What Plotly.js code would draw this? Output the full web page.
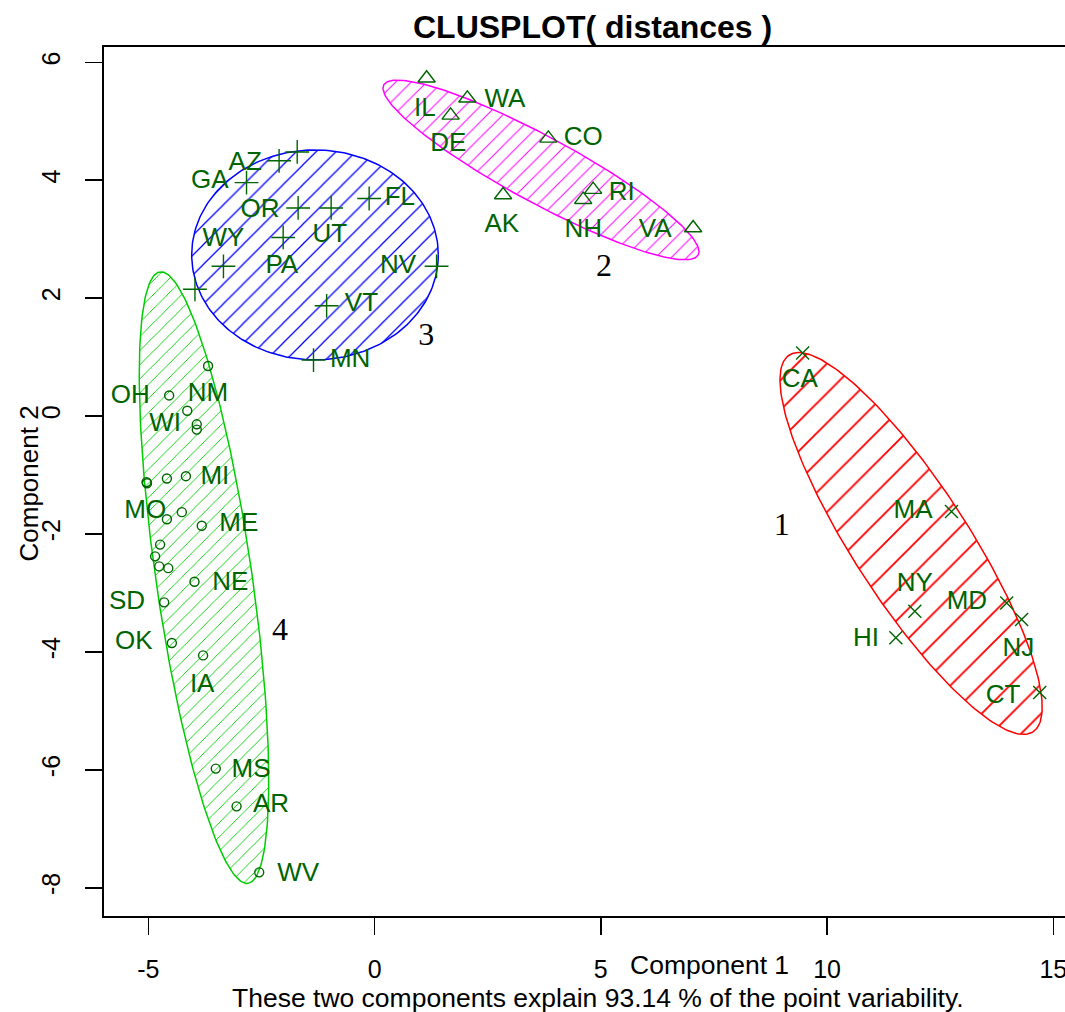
<!DOCTYPE html>
<html><head><meta charset="utf-8">
<script src="https://cdn.plot.ly/plotly-3.0.1.min.js"></script>
<style>html,body{margin:0;padding:0;overflow:hidden;background:#fff}#chart{width:1090px;height:1012px}</style>
</head><body><div id="chart"></div>
<script>
// ---- data ----
const xTicks = [-5, 0, 5, 10, 15];
const yTicks = [-8, -6, -4, -2, 0, 2, 4, 6];

// cluster 1 (x markers)
const c1x = [9.46, 12.75, 11.94, 11.52, 13.97, 14.30, 14.70];
const c1y = [1.07, -1.62, -3.31, -3.76, -3.17, -3.45, -4.69];
const c1Lab = ["CA", "MA", "NY", "HI", "MD", "NJ", "CT"];
const c1LabX = [9.40, 11.90, 11.94, 10.86, 13.09, 14.23, 13.89];
const c1LabY = [0.61, -1.62, -2.86, -3.79, -3.17, -3.96, -4.75];

// cluster 2 (triangles)
const c2x = [1.15, 2.05, 1.68, 3.84, 2.84, 4.83, 4.61, 7.04];
const c2y = [5.73, 5.39, 5.10, 4.71, 3.75, 3.84, 3.67, 3.19];
const c2Lab = ["IL", "WA", "DE", "CO", "AK", "RI", "NH", "VA"];
const c2LabX = [1.11, 2.88, 1.63, 4.61, 2.81, 5.46, 4.61, 6.20];
const c2LabY = [5.20, 5.36, 4.60, 4.70, 3.24, 3.78, 3.14, 3.14];

// cluster 3 (plus markers)
const c3x = [-1.71, -2.11, -2.83, -1.69, -0.96, -0.12, -2.02, -3.34, 1.37, -3.97, -1.06, -1.35];
const c3y = [4.48, 4.33, 3.96, 3.53, 3.53, 3.69, 3.03, 2.54, 2.54, 2.15, 1.87, 0.95];
const c3Lab = ["AZ", "GA", "OR", "WY", "UT", "PA", "NV", "FL", "VT", "MN"];
const c3LabX = [-2.86, -3.64, -2.53, -3.34, -0.99, -2.05, 0.52, 0.56, -0.29, -0.54];
const c3LabY = [4.29, 3.98, 3.49, 2.99, 3.06, 2.54, 2.54, 3.69, 1.89, 0.95];

// cluster 4 (circles)
const c4x = [-3.68, -4.54, -4.14, -3.93, -3.93, -5.04, -5.03, -4.59, -4.17, -4.59, -4.26, -3.82,
             -4.74, -4.85, -4.76, -4.56, -3.98, -4.65, -4.48, -3.79, -3.51, -3.05, -2.55];
const c4y = [0.85, 0.35, 0.09, -0.14, -0.23, -1.12, -1.14, -1.06, -1.02, -1.75, -1.63, -1.86,
             -2.18, -2.38, -2.55, -2.58, -2.81, -3.16, -3.85, -4.06, -5.98, -6.62, -7.74];
const c4Lab = ["OH", "NM", "WI", "MI", "MO", "ME", "SD", "NE", "OK", "IA", "MS", "AR", "WV"];
const c4LabX = [-5.40, -3.68, -4.63, -3.53, -5.07, -3.00, -5.47, -3.19, -5.32, -3.81, -2.73, -2.29, -1.69];
const c4LabY = [0.33, 0.36, -0.15, -1.05, -1.62, -1.84, -3.16, -2.84, -3.84, -4.57, -6.01, -6.61, -7.78];

// cluster ellipses: center and two conjugate semi-diameters (data units)
const ellName = ["1", "2", "3", "4"];
const ellCx = [11.857, 3.678, -1.317, -3.77];
const ellCy = [-2.161, 4.175, 2.734, -2.74];
const ellUx = [2.694, 3.474, 2.725, 0.972];
const ellUy = [-3.195, -1.442, 0, -5.186];
const ellVx = [1.067, -0.349, 0, 1.050];
const ellVy = [0.529, -0.493, 1.780, 0.115];
const ellLabX = [9.00, 5.07, 1.14, -2.09];
const ellLabY = [-1.89, 2.51, 1.34, -3.67];

// ---- styles ----
const ellColor = ["#FF0000", "#FF00FF", "#0000FF", "#00CD00"];
const hatchSize = [21, 11, 14, 10];
const ptColor = "#006400";
const font = "Liberation Sans, Arial, sans-serif";

const traces = [];
for (let k = 0; k < 4; k++) {
  const ex = [], ey = [];
  for (let i = 0; i <= 240; i++) {
    const t = 2 * Math.PI * i / 240;
    ex.push(ellCx[k] + ellUx[k] * Math.cos(t) + ellVx[k] * Math.sin(t));
    ey.push(ellCy[k] + ellUy[k] * Math.cos(t) + ellVy[k] * Math.sin(t));
  }
  traces.push({
    x: ex, y: ey, type: "scatter", mode: "lines", fill: "toself",
    fillcolor: "rgba(0,0,0,0)",
    fillpattern: {shape: "/", fgcolor: ellColor[k], bgcolor: "rgba(0,0,0,0)",
                  size: hatchSize[k], solidity: 0.09},
    line: {color: ellColor[k], width: 1.5}, hoverinfo: "skip", showlegend: false
  });
}
function pts(x, y, sym, size) {
  return {x: x, y: y, type: "scatter", mode: "markers", showlegend: false,
    marker: {symbol: sym, size: size, color: ptColor, line: {color: ptColor, width: 1.4}}};
}
function labs(x, y, t) {
  return {x: x, y: y, text: t, type: "scatter", mode: "text", textposition: "middle center",
    showlegend: false, textfont: {family: font, size: 26, color: ptColor}};
}
traces.push(pts(c1x, c1y, "x-thin-open", 13));
traces.push(pts(c2x, c2y, "triangle-up-open", 15));
traces.push(pts(c3x, c3y, "cross-thin-open", 17));
traces.push(pts(c4x, c4y, "circle-open", 9));
traces.push(labs(c1LabX, c1LabY, c1Lab));
traces.push(labs(c2LabX, c2LabY, c2Lab));
traces.push(labs(c3LabX, c3LabY, c3Lab));
traces.push(labs(c4LabX, c4LabY, c4Lab));
traces.push({x: ellLabX, y: ellLabY, text: ellName, type: "scatter", mode: "text",
  textposition: "middle center", showlegend: false,
  textfont: {family: "Liberation Serif, Times New Roman, serif", size: 32, color: "#000"}});

const axisCommon = {showgrid: false, zeroline: false, showline: true, mirror: true,
  linecolor: "#000", linewidth: 1.6, ticks: "outside", ticklen: 17, tickwidth: 1.6,
  tickcolor: "#000", tickfont: {family: font, size: 25, color: "#000"}};

const layout = {
  width: 1090, height: 1012,
  margin: {l: 104, r: 10, t: 47, b: 96},
  paper_bgcolor: "#fff", plot_bgcolor: "#fff",
  xaxis: Object.assign({}, axisCommon, {range: [-5.98, 15.59], tickvals: xTicks,
    ticktext: xTicks.map(String), ticklabelstandoff: 13}),
  yaxis: Object.assign({}, axisCommon, {range: [-8.48, 6.26], tickvals: yTicks,
    ticktext: yTicks.map(String), tickangle: -90, ticklabelstandoff: 15}),
  annotations: [
    {text: "<b>CLUSPLOT( distances )</b>", xref: "paper", yref: "paper", x: 0.5, y: 1,
     yshift: 20, xanchor: "center", yanchor: "middle", showarrow: false,
     font: {family: font, size: 32, color: "#000"}},
    {text: "Component 1", xref: "paper", yref: "paper", x: (709 - 104) / 976, y: 0,
     yshift: -49, xanchor: "center", yanchor: "middle", showarrow: false,
     font: {family: font, size: 26.5, color: "#000"}},
    {text: "These two components explain 93.14 % of the point variability.", xref: "paper", yref: "paper",
     x: (598 - 104) / 976, y: 0, yshift: -82, xanchor: "center", yanchor: "middle", showarrow: false,
     font: {family: font, size: 26.5, color: "#000"}},
    {text: "Component 2", xref: "paper", yref: "paper", x: 0, xshift: -76, y: 0.5, yshift: -2,
     xanchor: "center", yanchor: "middle", textangle: -90, showarrow: false,
     font: {family: font, size: 26, color: "#000"}}
  ]
};
Plotly.newPlot("chart", traces, layout, {staticPlot: true});
</script></body></html>
